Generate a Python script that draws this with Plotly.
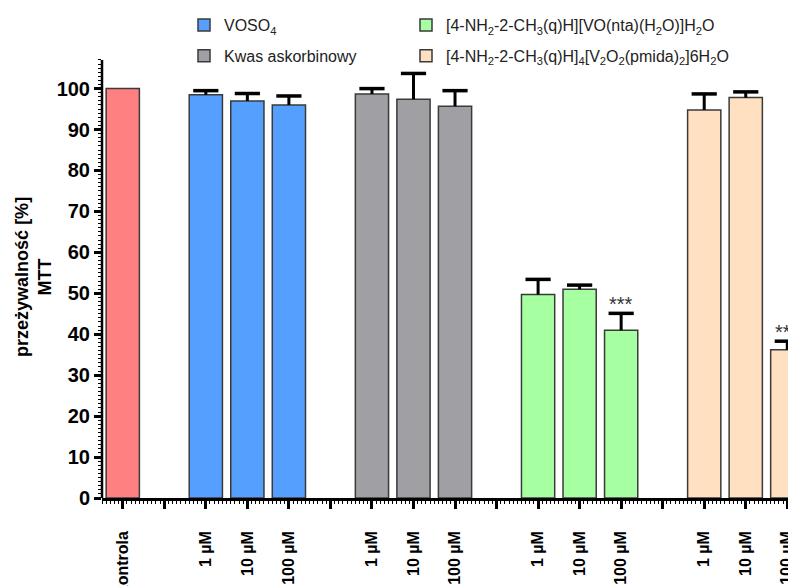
import plotly.graph_objects as go

# ---------------- data ----------------
control_label = "kontrola"
control_value = 100.0

conc_labels = ["1 µM", "10 µM", "100 µM"]

group_names = [
    "VOSO<sub>4</sub>",
    "Kwas askorbinowy",
    "[4-NH<sub>2</sub>-2-CH<sub>3</sub>(q)H][VO(nta)(H<sub>2</sub>O)]H<sub>2</sub>O",
    "[4-NH<sub>2</sub>-2-CH<sub>3</sub>(q)H]<sub>4</sub>[V<sub>2</sub>O<sub>2</sub>(pmida)<sub>2</sub>]6H<sub>2</sub>O",
]
group_means = [
    [98.5, 97.0, 96.0],
    [98.7, 97.4, 95.7],
    [49.7, 51.0, 41.0],
    [94.8, 97.8, 36.2],
]
group_errors = [
    [1.0, 1.8, 2.2],
    [1.3, 6.3, 3.8],
    [3.7, 1.0, 4.1],
    [3.9, 1.4, 2.1],
]
significance = [
    ["", "", ""],
    ["", "", ""],
    ["", "", "***"],
    ["", "", "***"],
]
legend_ids = ["legend", "legend", "legend2", "legend2"]

y_ticks = list(range(0, 101, 10))
y_axis_top = 107
y_title = "przeżywalność [%]<br>MTT"

# ---------------- style / layout ----------------
control_color = "#FF8080"
group_colors = ["#55A0FF", "#A0A0A4", "#A6FFA0", "#FFE0C0"]
outline = "#3A3A3A"
FONT = "Liberation Sans, Arial, sans-serif"

# the page body adds an 8 px offset, so the figure is 8 px smaller
W, H = 788, 578
ML, MR, MT, MB = 94, 0, 0, 88
PX_PER_UNIT = 4.094
plot_h = H - MT - MB
plot_w = W - ML - MR

fig = go.Figure()

# positions: control at 0, each group after one empty slot
positions = []
tickvals = [0]
ticktext = [control_label]
pos = 0
for g in range(len(group_names)):
    pos += 1
    tickvals.append(pos)
    ticktext.append("")
    gp = []
    for j in range(len(conc_labels)):
        pos += 1
        gp.append(pos)
        tickvals.append(pos)
        ticktext.append(conc_labels[j])
    positions.append(gp)

fig.add_trace(go.Bar(
    x=[0], y=[control_value], width=0.8, showlegend=False,
    marker=dict(color=control_color, line=dict(color=outline, width=1.5)),
    hoverinfo="skip",
))

for g, name in enumerate(group_names):
    fig.add_trace(go.Bar(
        x=positions[g], y=group_means[g], width=0.8, name=name,
        legend=legend_ids[g], legendgroup="g%d" % g,
        marker=dict(color=group_colors[g], line=dict(color=outline, width=1.5)),
    ))

# error bars (upper only): stems and caps
stem_x, stem_y, cap_x, cap_y = [], [], [], []
for g in range(len(group_names)):
    for j in range(len(conc_labels)):
        x = positions[g][j]
        m = group_means[g][j]
        e = group_errors[g][j]
        stem_x += [x, x, None]
        stem_y += [m, m + e, None]
        cap_x.append(x)
        cap_y.append(m + e)

fig.add_trace(go.Scatter(
    x=stem_x, y=stem_y, mode="lines", showlegend=False,
    line=dict(color="black", width=3), hoverinfo="skip",
))
fig.add_trace(go.Scatter(
    x=cap_x, y=cap_y, mode="markers", showlegend=False,
    marker=dict(symbol="line-ew", size=18, color="black",
                line=dict(color="black", width=3.5)),
    hoverinfo="skip",
))

for g in range(len(group_names)):
    for j in range(len(conc_labels)):
        if significance[g][j]:
            fig.add_annotation(
                x=positions[g][j], y=group_means[g][j] + group_errors[g][j],
                text=significance[g][j], showarrow=False,
                yanchor="bottom", yshift=-4,
                font=dict(family=FONT, size=20, color="#333333"),
            )

# y-axis title (as annotation so it can be centred like the reference)
fig.add_annotation(
    xref="paper", x=0, xanchor="center", xshift=-68,
    yref="y", y=54, yanchor="middle",
    text=y_title, textangle=-90, showarrow=False,
    font=dict(family=FONT, size=18, weight="bold", color="black"),
)

# y-axis line that stops above the last major tick
fig.add_shape(
    type="line", xref="paper", x0=0, x1=0, yref="y", y0=0, y1=y_axis_top,
    line=dict(color="black", width=2.5), layer="above",
)

legend_common = dict(
    orientation="v", xanchor="left", yanchor="top",
    traceorder="grouped", tracegroupgap=7,
    font=dict(family=FONT, size=16, color="#222222"),
    bgcolor="rgba(0,0,0,0)",
)

fig.update_layout(
    width=W, height=H,
    margin=dict(l=ML, r=MR, t=MT, b=MB),
    paper_bgcolor="white", plot_bgcolor="white",
    bargap=0.2,
    font=dict(family=FONT, color="black"),
    legend=dict(x=(176 - ML) / plot_w, y=1.0, **legend_common),
    legend2=dict(x=(398 - ML) / plot_w, y=1.0, **legend_common),
)

fig.update_xaxes(
    automargin=False,
    range=[-0.5, 16.21],
    tickmode="array", tickvals=tickvals, ticktext=ticktext,
    tickangle=-90,
    tickfont=dict(family=FONT, size=16, weight="bold", color="black"),
    ticks="outside", ticklen=8, tickwidth=3, tickcolor="black",
    ticklabelstandoff=16,
    showline=True, linecolor="black", linewidth=2.5,
    showgrid=False, zeroline=False,
    minor=dict(ticks="outside", dtick=0.1, ticklen=3, tickwidth=1,
               tickcolor="black", showgrid=False),
)
fig.update_yaxes(
    automargin=False,
    range=[0, plot_h / PX_PER_UNIT],
    tickmode="array", tickvals=y_ticks,
    tickfont=dict(family=FONT, size=20, weight="bold", color="black"),
    ticks="outside", ticklen=7, tickwidth=3, tickcolor="black",
    showline=False,
    showgrid=False, zeroline=False,
    minor=dict(ticks="outside", tickmode="array",
               tickvals=list(range(0, y_axis_top + 1)), ticklen=3, tickwidth=1,
               tickcolor="black", showgrid=False),
)

fig.write_html("out.html")
